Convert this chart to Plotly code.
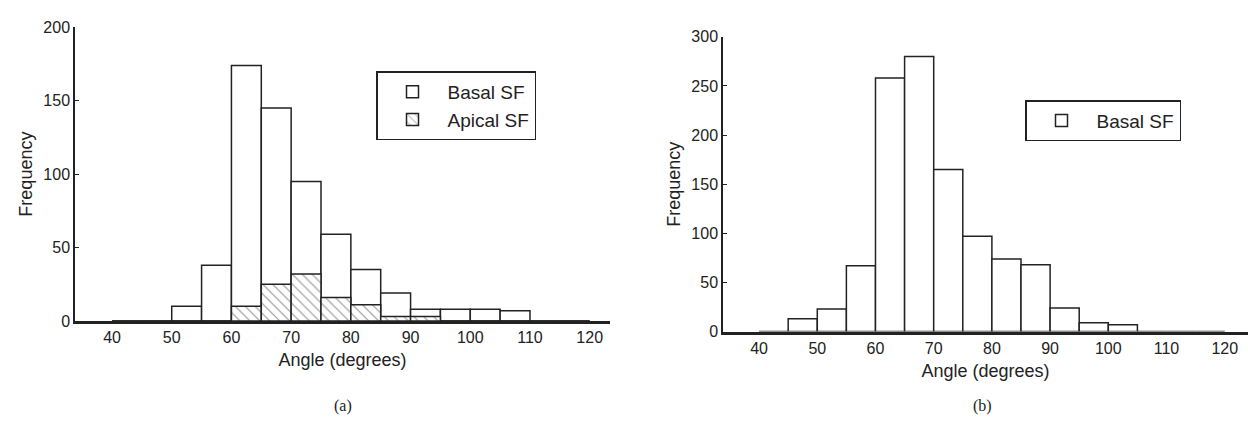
import plotly.graph_objects as go

# ---------- data ----------
bin_starts = [40, 45, 50, 55, 60, 65, 70, 75, 80, 85, 90, 95, 100, 105, 110, 115]
bin_width = 5

basal_a = [0, 0, 10, 38, 174, 145, 95, 59, 35, 19, 8, 8, 8, 7, 0, 0]
apical_a = [0, 0, 0, 0, 10, 25, 32, 16, 11, 3, 3, 0, 0, 0, 0, 0]
basal_b = [0, 13, 23, 67, 258, 280, 165, 97, 74, 68, 24, 9, 7, 0, 0, 0]

x_ticks = [40, 50, 60, 70, 80, 90, 100, 110, 120]
y_ticks_a = [0, 50, 100, 150, 200]
y_ticks_b = [0, 50, 100, 150, 200, 250, 300]

centers = [s + bin_width / 2 for s in bin_starts]

W, H = 1248, 427
SANS = "Liberation Sans, Arial, sans-serif"
SERIF = "Liberation Serif, Times New Roman, serif"
INK = "#222222"

fig = go.Figure()

bar_line = dict(color=INK, width=1.5)

fig.add_trace(go.Bar(
    x=centers, y=basal_a, width=bin_width, name="Basal SF",
    marker=dict(color="white", line=bar_line),
    xaxis="x", yaxis="y", legend="legend",
))
fig.add_trace(go.Bar(
    x=centers, y=apical_a, width=bin_width, name="Apical SF",
    marker=dict(color="white", line=bar_line,
                pattern=dict(shape="\\", fgcolor=INK, bgcolor="white",
                             size=7, solidity=0.15, fillmode="overlay")),
    xaxis="x", yaxis="y", legend="legend",
))
fig.add_trace(go.Bar(
    x=centers, y=basal_b, width=bin_width, name="Basal SF",
    marker=dict(color="white", line=bar_line),
    xaxis="x2", yaxis="y2", legend="legend2",
))

axis_common = dict(
    showgrid=False, zeroline=False, showline=True, linecolor=INK,
    tickfont=dict(family=SANS, size=16, color=INK),
)
title_font = dict(family=SANS, size=18, color=INK)

fig.update_layout(
    width=W, height=H,
    margin=dict(l=0, r=0, t=0, b=0),
    paper_bgcolor="white", plot_bgcolor="white",
    barmode="overlay",
    xaxis=dict(**axis_common, domain=[75 / W, 610 / W], range=[33.8, 123.4],
               tickvals=x_ticks, ticks="", linewidth=2.5, anchor="y",
               title=dict(text="Angle (degrees)", font=title_font, standoff=9)),
    yaxis=dict(**axis_common, domain=[(H - 326) / H, (H - 20) / H], range=[0, 200],
               tickvals=y_ticks_a, ticks="inside", ticklen=4, tickcolor=INK,
               linewidth=1.5, anchor="x",
               title=dict(text="Frequency", font=title_font, standoff=6)),
    xaxis2=dict(**axis_common, domain=[723 / W, 1.0], range=[33.8, 124.0],
                tickvals=x_ticks, ticks="", linewidth=2.5, anchor="y2",
                title=dict(text="Angle (degrees)", font=title_font, standoff=9)),
    yaxis2=dict(**axis_common, domain=[(H - 337) / H, (H - 30) / H], range=[0, 300],
                tickvals=y_ticks_b, ticks="inside", ticklen=4, tickcolor=INK,
                linewidth=1.5, anchor="x2",
                title=dict(text="Frequency", font=title_font, standoff=6)),
    legend=dict(x=376 / W, y=(H - 66) / H, xanchor="left", yanchor="top",
                bordercolor=INK, borderwidth=1.5, bgcolor="white",
                font=dict(family=SANS, size=19, color=INK),
                itemwidth=60, tracegroupgap=0, traceorder="normal"),
    legend2=dict(x=1025 / W, y=(H - 96) / H, xanchor="left", yanchor="top",
                 bordercolor=INK, borderwidth=1.5, bgcolor="white",
                 font=dict(family=SANS, size=19, color=INK),
                 itemwidth=60),
    annotations=[
        dict(text="(a)", x=343 / W, y=(H - 415) / H, xref="paper", yref="paper",
             xanchor="center", yanchor="middle",
             showarrow=False, font=dict(family=SERIF, size=16, color=INK)),
        dict(text="(b)", x=982 / W, y=(H - 415) / H, xref="paper", yref="paper",
             xanchor="center", yanchor="middle",
             showarrow=False, font=dict(family=SERIF, size=16, color=INK)),
    ],
)

fig.write_html("out.html")
